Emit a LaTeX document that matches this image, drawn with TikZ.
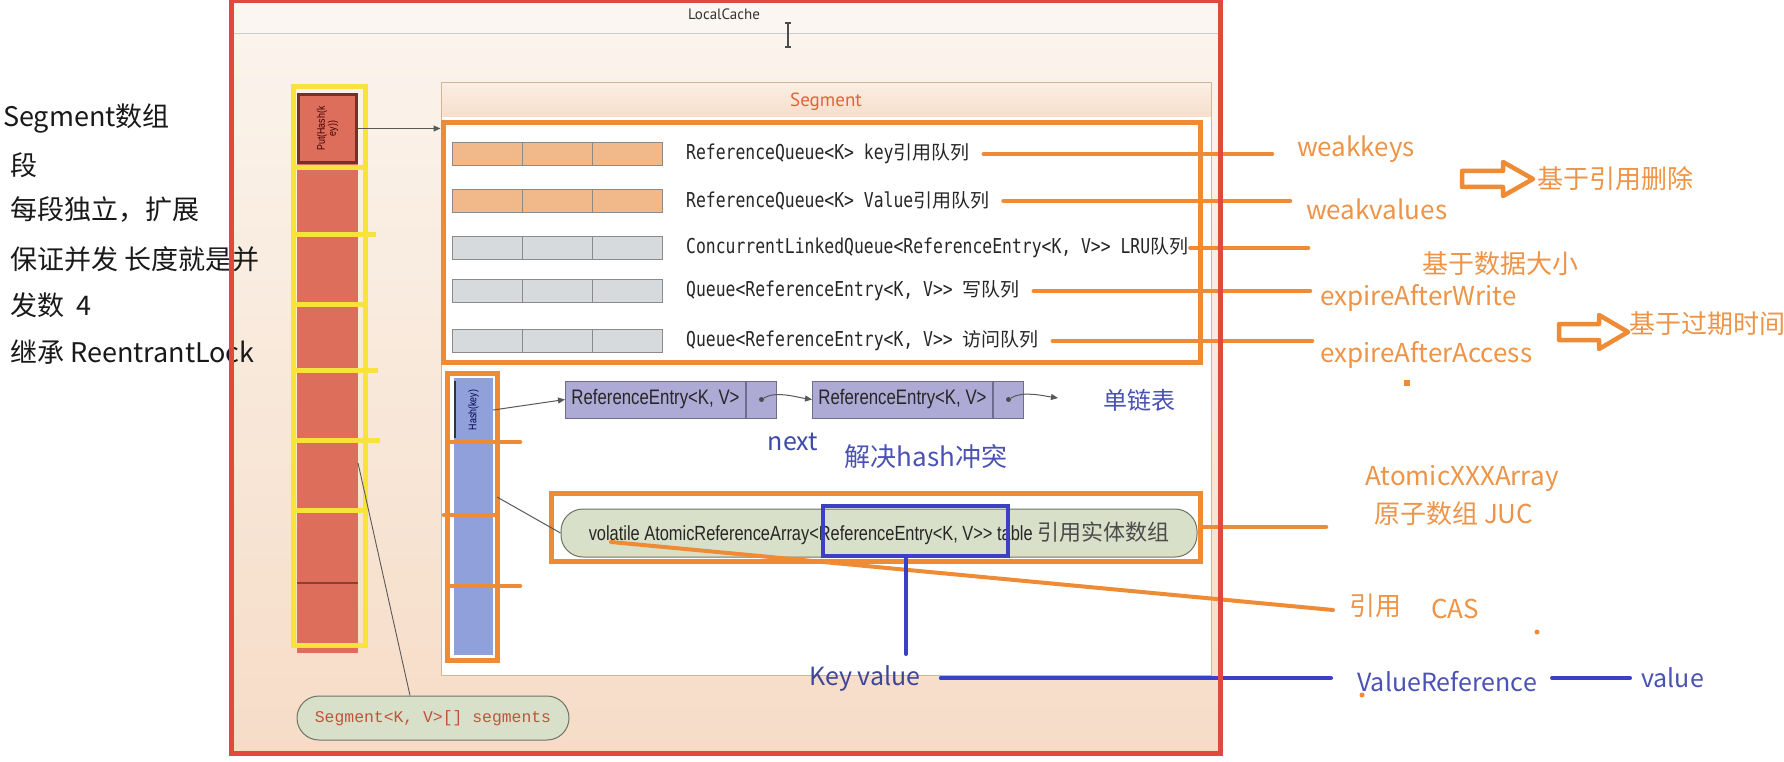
\documentclass[tikz,border=0pt]{standalone}
\usepackage{fontspec}
\setmainfont{Noto Sans CJK SC}
\newfontfamily\cjkf{Noto Sans CJK SC}
\newfontfamily\qmono[FakeStretch=0.8]{DejaVu Sans Mono}
\newfontfamily\smono{Liberation Mono}
\newfontfamily\condf[FakeStretch=0.8]{Liberation Sans}
\newfontfamily\ptsf{PT Sans}
\usetikzlibrary{arrows.meta}
\definecolor{redB}{HTML}{DF4A3C}
\definecolor{bgTop}{HTML}{FBF5EE}
\definecolor{bgBot}{HTML}{F6DCC7}
\definecolor{hdrC}{HTML}{FBF6F1}
\definecolor{panHdrTop}{HTML}{FBEEE3}
\definecolor{panHdrBot}{HTML}{F6DECB}
\definecolor{panLine}{HTML}{D2B497}
\definecolor{orS}{HTML}{EF8A35}
\definecolor{orT}{HTML}{EE9447}
\definecolor{peachC}{HTML}{F1B889}
\definecolor{grayC}{HTML}{D7DADD}
\definecolor{cellB}{HTML}{8C8A88}
\definecolor{redC}{HTML}{DE6E5C}
\definecolor{redCL}{HTML}{8E3F30}
\definecolor{yelS}{HTML}{F7E33C}
\definecolor{bluC}{HTML}{8FA0DA}
\definecolor{entC}{HTML}{AEAAD6}
\definecolor{entB}{HTML}{6F6B8C}
\definecolor{pillC}{HTML}{D9E0C9}
\definecolor{pillB}{HTML}{6E7366}
\definecolor{blS}{HTML}{3B40C4}
\definecolor{blT}{HTML}{4A52B4}
\definecolor{nxT}{HTML}{3A4AA6}
\definecolor{segT}{HTML}{E2633A}
\definecolor{segP}{HTML}{C0533B}
\newcommand\myqc[1]{{\cjkf\fontsize{19}{20}\selectfont #1}}
\begin{document}
\begin{tikzpicture}[x=1pt,y=-1pt,
  ol/.style={draw=orS, line width=4.5pt, line cap=round},
  obox/.style={draw=orS, line width=5pt},
  bl/.style={draw=blS, line width=4pt, line cap=round},
  thinl/.style={draw=black!65, line width=1pt},
  ltxt/.style={font=\cjkf\fontsize{27}{30}\selectfont, anchor=west, inner sep=0pt, text=black!90},
  olab/.style={font=\cjkf\fontsize{26}{28}\selectfont, anchor=west, inner sep=0pt, text=orT},
  blab/.style={font=\cjkf\fontsize{25}{28}\selectfont, inner sep=0pt, text=blT},
  qt/.style={font=\qmono\fontsize{20.5}{22}\selectfont, anchor=west, inner sep=0pt, text=black!85},
  entry/.style={draw=entB, fill=entC, line width=1pt, minimum height=37pt, inner sep=0pt,
    font=\condf\fontsize{21}{22}\selectfont, text=black!85, anchor=west},
  pill/.style={draw=pillB, fill=pillC, line width=1pt, rounded corners=22pt, inner sep=0pt},
  dotn/.style={circle, fill=black!70, inner sep=0pt, minimum size=5pt},
  tip/.style={-{Triangle[length=7pt,width=6pt]}}
]
\useasboundingbox (0,0) rectangle (1784,762);
\fill[white] (0,0) rectangle (1784,762);

% LocalCache background
\shade[top color=bgTop, bottom color=bgBot] (231,0) rectangle (1220,753);
\fill[hdrC] (231,0) rectangle (1220,34);
\draw[black!20, line width=1pt] (231,34) -- (1220,34);
\node[font=\ptsf\fontsize{15}{16}\selectfont, text=black!80] (lc) at (724,14) {LocalCache};
% text cursor
\draw[black!70, line width=1.3pt] (788,23) -- (788,47) (785,23) -- (791,23) (785,47) -- (791,47);

% left description text
\node[ltxt] (lt1) at (3,119) {Segment数组};
\node[ltxt] (lt2) at (10,165) {段};
\node[ltxt] (lt3) at (10,210) {每段独立，扩展};
\node[ltxt] (lt4) at (10,259) {保证并发 长度就是并};
\node[ltxt] (lt5) at (10,305) {发数\ \ 4};
\node[ltxt] (lt6) at (10,352) {继承 ReentrantLock};

% Segment panel
\shade[top color=panHdrTop, bottom color=panHdrBot] (441,83) rectangle (1211,117);
\fill[white] (441,117) rectangle (1211,675);
\node[draw=panLine, line width=1pt, minimum width=770pt, minimum height=592pt, inner sep=0pt] (panel) at (826,379) {};
\node[font=\ptsf\fontsize{19}{20}\selectfont, text=segT] (segh) at (826,102) {Segment};

% queues box
\node[obox, minimum width=757pt, minimum height=239pt, inner sep=0pt] (qbox) at (821.5,242.5) {};
\foreach \y/\c in {154/peachC,201/peachC,248/grayC,291/grayC,341/grayC} {
  \foreach \x in {452,522.3,592.6} \draw[fill=\c, draw=cellB, line width=1pt] (\x,\y-11.5) rectangle ++(70.3,23);
}
\node[qt] (t1) at (686,154) {ReferenceQueue<K> key\myqc{引用队列}};
\node[qt] (t2) at (686,201) {ReferenceQueue<K> Value\myqc{引用队列}};
\node[qt] (t3) at (686,248) {ConcurrentLinkedQueue<ReferenceEntry<K, V>> LRU\myqc{队列}};
\node[qt] (t4) at (686,291) {Queue<ReferenceEntry<K, V>> \myqc{写队列}};
\node[qt] (t5) at (686,341) {Queue<ReferenceEntry<K, V>> \myqc{访问队列}};

% right labels
\node[olab] (wk) at (1297,149) {weakkeys};
\node[olab] (wv) at (1306,209) {weakvalues};
\node[olab] (sz) at (1422,264) {基于数据大小};
\node[olab] (ew) at (1320,298) {expireAfterWrite};
\node[olab] (ea) at (1320,355) {expireAfterAccess};
\node[olab] (ref) at (1537,179) {基于引用删除};
\node[olab] (exp) at (1629,324) {基于过期时间};
\coordinate (e1) at (1272,150);
\coordinate (e2) at (1290,205);
\coordinate (e3) at (1308,253);
\coordinate (e4) at (1310,291);
\coordinate (e5) at (1312,340);
\draw[ol] ([xshift=14pt]t1.east) -- (t1.east -| e1);
\draw[ol] ([xshift=14pt]t2.east) -- (t2.east -| e2);
\draw[ol] ([xshift=2pt]t3.east) -- (t3.east -| e3);
\draw[ol] ([xshift=14pt]t4.east) -- (t4.east -| e4);
\draw[ol] ([xshift=14pt]t5.east) -- (t5.east -| e5);
% hollow arrows
\draw[draw=orS, line width=4.5pt, line join=round] (1462,171) -- (1503,171) -- (1503,162) -- (1533,179) -- (1503,196) -- (1503,187) -- (1462,187) -- cycle;
\draw[draw=orS, line width=4.5pt, line join=round] (1559,324) -- (1599,324) -- (1599,315) -- (1628,332) -- (1599,349) -- (1599,340) -- (1559,340) -- cycle;
\fill[orS] (1404,380) rectangle (1410,386);

% Segment array column
\fill[redC] (297,93) rectangle (358,653);
\foreach \y in {234,304,372,440,510,583} \draw[redCL, line width=1.2pt] (297,\y) -- (358,\y);
\node[draw=redCL!80!black, fill=redC, line width=2.5pt, minimum width=58pt, minimum height=68pt, inner sep=0pt] (c1) at (327.5,128.5) {};
\node[rotate=90, font=\condf\fontsize{11}{11}\selectfont, text=black!75!red, align=center, inner sep=0pt] (c1t) at (c1) {Put(Hash(k\\ey))};
\draw[yelS, line width=5pt] (293,87) rectangle (365,645);
\draw[yelS, line width=5pt] (295,168) -- (363,168) (295,234) -- (376,234) (295,304) -- (363,304)
  (295,370) -- (378,370) (295,440) -- (380,440) (295,510) -- (363,510);
\draw[thinl, tip] (c1.east) -- (c1.east -| panel.west);

% hash table column
\fill[bluC] (454,378) rectangle (493,655);
\foreach \y in {515,586} \draw[black!60, line width=1pt] (454,\y) -- (493,\y);
\node[fill=bluC, minimum width=39pt, minimum height=64pt, inner sep=0pt] (h1) at (473.5,410) {};
\node[rotate=90, font=\condf\fontsize{11}{11}\selectfont, text=blue!30!black, inner sep=0pt] (h1t) at (h1) {Hash(key)};
\draw[black!80, line width=2pt] (455,381) -- (455,438);
\draw[obox] (447,373) rectangle (497,660);
\draw[ol] (450,442) -- (520,442) (444,515) -- (497,515) (450,586) -- (520,586);
\coordinate (h2) at (497,497);

% linked entries
\node[entry, minimum width=180pt] (en1) at (565,399.5) {ReferenceEntry<K, V>};
\node[entry, minimum width=30pt] (p1) at (en1.east) {};
\node[entry, minimum width=180pt] (en2) at (812,399.5) {ReferenceEntry<K, V>};
\node[entry, minimum width=30pt] (p2) at (en2.east) {};
\node[dotn] (d1) at (p1.center) {};
\node[dotn] (d2) at (p2.center) {};
\coordinate (nx2) at (1058,398);
\draw[thinl, tip] (h1.east) -- (en1.west);
\draw[thinl, tip] (d1) .. controls +(14,-9) and +(-14,-2) .. (en2.west);
\draw[thinl, tip] (d2) .. controls +(14,-9) and +(-14,-2) .. (nx2);
\node[blab, font=\cjkf\fontsize{24}{26}\selectfont] (dlb) at (1139,400) {单链表};
\node[blab, text=nxT] (nxt) at (793,442) {next};
\node[blab, font=\cjkf\fontsize{26}{28}\selectfont] (jj) at (926,457) {解决hash冲突};

% atomic reference array
\node[obox, minimum width=649pt, minimum height=68pt, inner sep=0pt] (abox) at (875.5,527) {};
\node[pill, minimum width=636pt, minimum height=48pt] (arr) at (879,533)
  {\condf\fontsize{20.5}{22}\selectfont\color{black!85}volatile AtomicReferenceArray<ReferenceEntry<K, V>> table {\cjkf\fontsize{22}{24}\selectfont\color{black!70} 引用实体数组}};
\node[draw=blS, line width=4pt, minimum width=185pt, minimum height=50pt, inner sep=0pt] (kvbox) at (915.5,531) {};
\draw[thinl] (h2) -- (arr.west);

% segments pill
\node[pill, minimum width=272pt, minimum height=44pt, font=\smono\fontsize{16.4}{18}\selectfont, text=segP] (segp) at (433,718) {Segment<K, V>[] segments};
\coordinate (colp) at (358,463);
\draw[thinl, line width=0.9pt] (colp) -- ([xshift=-23pt]segp.north);

% labels right bottom
\node[olab] (ax) at (1365,478) {AtomicXXXArray};
\node[olab] (yz) at (1374,514) {原子数组 JUC};
\node[olab] (yy) at (1349,606) {引用};
\node[olab] (cas) at (1431,609) {CAS};
\coordinate (aend) at (1326,528);
\draw[ol] (abox.east) -- (aend |- abox.east);
\coordinate (ds) at (611,542);
\draw[ol, line width=4pt] (ds) -- ([xshift=-16pt,yshift=-4pt]yy.west);
\fill[orS] (1537,632) circle (2.5);
\fill[orS] (1362,695) circle (2.5);

% key / value
\coordinate (kvd) at (906,654);
\draw[bl] (kvbox.south -| kvd) -- (kvd);
\node[blab, text=blT!85!black] (kv) at (865,678) {Key value};
\node[blab, anchor=west] (vr) at (1357,682) {ValueReference};
\node[blab, anchor=west] (val) at (1641,678) {value};
\draw[bl] ([xshift=20pt]kv.east) -- ([xshift=-26pt]vr.west |- kv.east);
\draw[bl] ([xshift=15pt]vr.east |- val.west) -- ([xshift=-11pt]val.west);

% red frame on top
\draw[redB, line width=5pt] (231,1) rectangle (1220,753);
\end{tikzpicture}
\end{document}
